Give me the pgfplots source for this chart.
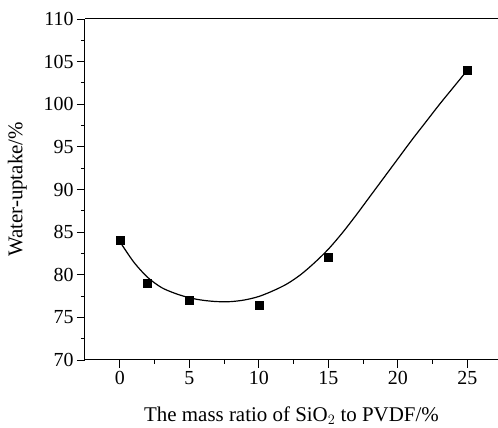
\documentclass[border=0pt]{standalone}
\usepackage{fontspec}
\setmainfont{Liberation Serif}
\usepackage{pgfplots}
\pgfplotsset{compat=1.18}
\begin{document}
\begin{tikzpicture}
\begin{axis}[
  scale only axis,
  width=413bp, height=341bp,
  xmin=-2.5, xmax=27.2,
  ymin=70, ymax=110,
  axis x line=box, axis y line=left,
  axis line style={line width=1bp, -},
  xtick={0,5,...,25},
  minor xtick={2.5,7.5,...,27.5},
  ytick={70,75,...,110},
  minor ytick={72.5,77.5,...,107.5},
  xtick pos=bottom, ytick pos=left,
  tick align=outside,
  major tick length=8bp, minor tick length=4bp,
  tick style={line width=0.9bp, black},
  /pgf/number format/assume math mode=true,
  ticklabel style={font=\fontsize{20}{24}\selectfont},
  label style={font=\fontsize{21}{25}\selectfont},
  xlabel={The mass ratio of SiO$_2$ to PVDF/\%},
  ylabel={Water-uptake/\%},
  xlabel style={yshift=-15bp},
  ylabel style={yshift=10bp},
  clip=false,
]
\addplot[black, line width=1.2bp, smooth, no marks] coordinates {
 (0,83.9) (1,81.5) (2,79.7) (3,78.5) (4,77.8) (5,77.3) (6,77.0) (7,76.85)
 (8,76.85) (9,77.05) (10,77.45) (11,78.1) (12,78.9) (13,80.0) (14,81.4)
 (15,83.0) (16,84.9) (17,87.0) (18,89.2) (19,91.4) (20,93.6) (21,95.8)
 (22,97.9) (23,100.0) (24,102.0) (25,104.0)
};
\addplot[only marks, mark=square*, mark size=4bp, black] coordinates {
 (0,84) (2,79) (5,77) (10,76.4) (15,82) (25,104)
};
\end{axis}
\pgfresetboundingbox
\path ([xshift=-85bp,yshift=-68bp]current axis.south west) rectangle ([yshift=19bp]current axis.north east);
\end{tikzpicture}
\end{document}
